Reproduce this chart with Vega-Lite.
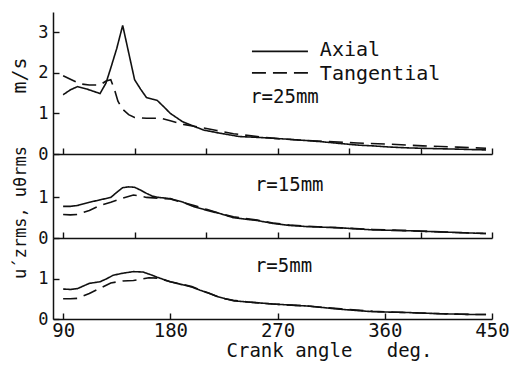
{
  "$schema": "https://vega.github.io/schema/vega-lite/v6.json",
  "background": "white",
  "padding": {"left": 9, "top": 12, "right": 5, "bottom": 2},
  "spacing": 0,
  "bounds": "flush",
  "config": {
    "view": {"stroke": null},
    "font": "DejaVu Sans Mono",
    "axis": {"domainColor": "#111", "gridColor": "#111", "labelColor": "#111", "titleColor": "#111", "labelOverlap": false, "labelFlush": false, "labelFont": "DejaVu Sans Mono", "titleFont": "DejaVu Sans Mono", "titleFontWeight": "normal", "domainWidth": 1.5, "gridWidth": 1.4, "gridOpacity": 1, "ticks": false, "grid": true}
  },
  "datasets": {
    "curves": [
      {"panel": "r25", "series": "Axial", "angle": 90, "v": 1.46},
      {"panel": "r25", "series": "Axial", "angle": 96, "v": 1.58},
      {"panel": "r25", "series": "Axial", "angle": 102, "v": 1.66},
      {"panel": "r25", "series": "Axial", "angle": 110, "v": 1.6},
      {"panel": "r25", "series": "Axial", "angle": 121, "v": 1.49},
      {"panel": "r25", "series": "Axial", "angle": 126, "v": 1.75},
      {"panel": "r25", "series": "Axial", "angle": 130, "v": 2.12},
      {"panel": "r25", "series": "Axial", "angle": 135, "v": 2.6},
      {"panel": "r25", "series": "Axial", "angle": 140, "v": 3.17},
      {"panel": "r25", "series": "Axial", "angle": 145, "v": 2.5},
      {"panel": "r25", "series": "Axial", "angle": 150, "v": 1.83},
      {"panel": "r25", "series": "Axial", "angle": 155, "v": 1.6},
      {"panel": "r25", "series": "Axial", "angle": 160, "v": 1.39},
      {"panel": "r25", "series": "Axial", "angle": 165, "v": 1.35},
      {"panel": "r25", "series": "Axial", "angle": 169, "v": 1.32},
      {"panel": "r25", "series": "Axial", "angle": 175, "v": 1.15},
      {"panel": "r25", "series": "Axial", "angle": 180, "v": 1.0},
      {"panel": "r25", "series": "Axial", "angle": 190, "v": 0.8},
      {"panel": "r25", "series": "Axial", "angle": 200, "v": 0.68},
      {"panel": "r25", "series": "Axial", "angle": 208, "v": 0.59},
      {"panel": "r25", "series": "Axial", "angle": 222, "v": 0.51},
      {"panel": "r25", "series": "Axial", "angle": 238, "v": 0.43},
      {"panel": "r25", "series": "Axial", "angle": 253, "v": 0.41},
      {"panel": "r25", "series": "Axial", "angle": 265, "v": 0.39},
      {"panel": "r25", "series": "Axial", "angle": 281, "v": 0.36},
      {"panel": "r25", "series": "Axial", "angle": 295, "v": 0.33},
      {"panel": "r25", "series": "Axial", "angle": 308, "v": 0.3},
      {"panel": "r25", "series": "Axial", "angle": 322, "v": 0.26},
      {"panel": "r25", "series": "Axial", "angle": 337, "v": 0.22},
      {"panel": "r25", "series": "Axial", "angle": 350, "v": 0.2},
      {"panel": "r25", "series": "Axial", "angle": 365, "v": 0.17},
      {"panel": "r25", "series": "Axial", "angle": 380, "v": 0.15},
      {"panel": "r25", "series": "Axial", "angle": 392, "v": 0.14},
      {"panel": "r25", "series": "Axial", "angle": 405, "v": 0.13},
      {"panel": "r25", "series": "Axial", "angle": 421, "v": 0.12},
      {"panel": "r25", "series": "Axial", "angle": 432, "v": 0.11},
      {"panel": "r25", "series": "Axial", "angle": 445, "v": 0.1},
      {"panel": "r25", "series": "Tangential", "angle": 90, "v": 1.93},
      {"panel": "r25", "series": "Tangential", "angle": 97, "v": 1.83},
      {"panel": "r25", "series": "Tangential", "angle": 104, "v": 1.73},
      {"panel": "r25", "series": "Tangential", "angle": 112, "v": 1.7},
      {"panel": "r25", "series": "Tangential", "angle": 121, "v": 1.7},
      {"panel": "r25", "series": "Tangential", "angle": 126, "v": 1.8},
      {"panel": "r25", "series": "Tangential", "angle": 130, "v": 1.83},
      {"panel": "r25", "series": "Tangential", "angle": 133, "v": 1.6},
      {"panel": "r25", "series": "Tangential", "angle": 136, "v": 1.3},
      {"panel": "r25", "series": "Tangential", "angle": 140, "v": 1.1},
      {"panel": "r25", "series": "Tangential", "angle": 145, "v": 0.97},
      {"panel": "r25", "series": "Tangential", "angle": 150, "v": 0.9},
      {"panel": "r25", "series": "Tangential", "angle": 160, "v": 0.88},
      {"panel": "r25", "series": "Tangential", "angle": 172, "v": 0.88},
      {"panel": "r25", "series": "Tangential", "angle": 180, "v": 0.82},
      {"panel": "r25", "series": "Tangential", "angle": 191, "v": 0.73},
      {"panel": "r25", "series": "Tangential", "angle": 205, "v": 0.66},
      {"panel": "r25", "series": "Tangential", "angle": 219, "v": 0.58},
      {"panel": "r25", "series": "Tangential", "angle": 233, "v": 0.5},
      {"panel": "r25", "series": "Tangential", "angle": 253, "v": 0.43},
      {"panel": "r25", "series": "Tangential", "angle": 270, "v": 0.38},
      {"panel": "r25", "series": "Tangential", "angle": 290, "v": 0.34},
      {"panel": "r25", "series": "Tangential", "angle": 310, "v": 0.31},
      {"panel": "r25", "series": "Tangential", "angle": 337, "v": 0.27},
      {"panel": "r25", "series": "Tangential", "angle": 365, "v": 0.24},
      {"panel": "r25", "series": "Tangential", "angle": 392, "v": 0.2},
      {"panel": "r25", "series": "Tangential", "angle": 421, "v": 0.17},
      {"panel": "r25", "series": "Tangential", "angle": 445, "v": 0.14},
      {"panel": "r15", "series": "Axial", "angle": 90, "v": 0.78},
      {"panel": "r15", "series": "Axial", "angle": 96, "v": 0.78},
      {"panel": "r15", "series": "Axial", "angle": 102, "v": 0.8},
      {"panel": "r15", "series": "Axial", "angle": 112, "v": 0.88},
      {"panel": "r15", "series": "Axial", "angle": 121, "v": 0.94},
      {"panel": "r15", "series": "Axial", "angle": 130, "v": 1.0},
      {"panel": "r15", "series": "Axial", "angle": 136, "v": 1.15},
      {"panel": "r15", "series": "Axial", "angle": 140, "v": 1.24},
      {"panel": "r15", "series": "Axial", "angle": 145, "v": 1.26},
      {"panel": "r15", "series": "Axial", "angle": 150, "v": 1.25},
      {"panel": "r15", "series": "Axial", "angle": 155, "v": 1.18},
      {"panel": "r15", "series": "Axial", "angle": 160, "v": 1.1},
      {"panel": "r15", "series": "Axial", "angle": 165, "v": 1.03},
      {"panel": "r15", "series": "Axial", "angle": 170, "v": 1.0},
      {"panel": "r15", "series": "Axial", "angle": 180, "v": 0.97},
      {"panel": "r15", "series": "Axial", "angle": 190, "v": 0.89},
      {"panel": "r15", "series": "Axial", "angle": 199, "v": 0.78},
      {"panel": "r15", "series": "Axial", "angle": 211, "v": 0.68},
      {"panel": "r15", "series": "Axial", "angle": 222, "v": 0.6},
      {"panel": "r15", "series": "Axial", "angle": 233, "v": 0.5},
      {"panel": "r15", "series": "Axial", "angle": 253, "v": 0.43},
      {"panel": "r15", "series": "Axial", "angle": 266, "v": 0.36},
      {"panel": "r15", "series": "Axial", "angle": 280, "v": 0.31},
      {"panel": "r15", "series": "Axial", "angle": 295, "v": 0.28},
      {"panel": "r15", "series": "Axial", "angle": 323, "v": 0.25},
      {"panel": "r15", "series": "Axial", "angle": 350, "v": 0.2},
      {"panel": "r15", "series": "Axial", "angle": 379, "v": 0.18},
      {"panel": "r15", "series": "Axial", "angle": 407, "v": 0.15},
      {"panel": "r15", "series": "Axial", "angle": 435, "v": 0.12},
      {"panel": "r15", "series": "Axial", "angle": 445, "v": 0.11},
      {"panel": "r15", "series": "Tangential", "angle": 90, "v": 0.58},
      {"panel": "r15", "series": "Tangential", "angle": 96, "v": 0.57},
      {"panel": "r15", "series": "Tangential", "angle": 102, "v": 0.58},
      {"panel": "r15", "series": "Tangential", "angle": 112, "v": 0.68},
      {"panel": "r15", "series": "Tangential", "angle": 121, "v": 0.8},
      {"panel": "r15", "series": "Tangential", "angle": 130, "v": 0.88},
      {"panel": "r15", "series": "Tangential", "angle": 140, "v": 0.98},
      {"panel": "r15", "series": "Tangential", "angle": 149, "v": 1.06},
      {"panel": "r15", "series": "Tangential", "angle": 155, "v": 1.03},
      {"panel": "r15", "series": "Tangential", "angle": 160, "v": 1.0},
      {"panel": "r15", "series": "Tangential", "angle": 170, "v": 0.98},
      {"panel": "r15", "series": "Tangential", "angle": 180, "v": 0.96},
      {"panel": "r15", "series": "Tangential", "angle": 190, "v": 0.88},
      {"panel": "r15", "series": "Tangential", "angle": 200, "v": 0.8},
      {"panel": "r15", "series": "Tangential", "angle": 211, "v": 0.7},
      {"panel": "r15", "series": "Tangential", "angle": 222, "v": 0.6},
      {"panel": "r15", "series": "Tangential", "angle": 233, "v": 0.52},
      {"panel": "r15", "series": "Tangential", "angle": 253, "v": 0.44},
      {"panel": "r15", "series": "Tangential", "angle": 266, "v": 0.37},
      {"panel": "r15", "series": "Tangential", "angle": 280, "v": 0.32},
      {"panel": "r15", "series": "Tangential", "angle": 295, "v": 0.29},
      {"panel": "r15", "series": "Tangential", "angle": 323, "v": 0.25},
      {"panel": "r15", "series": "Tangential", "angle": 350, "v": 0.21},
      {"panel": "r15", "series": "Tangential", "angle": 379, "v": 0.18},
      {"panel": "r15", "series": "Tangential", "angle": 407, "v": 0.15},
      {"panel": "r15", "series": "Tangential", "angle": 435, "v": 0.12},
      {"panel": "r15", "series": "Tangential", "angle": 445, "v": 0.11},
      {"panel": "r5", "series": "Axial", "angle": 90, "v": 0.74},
      {"panel": "r5", "series": "Axial", "angle": 96, "v": 0.73},
      {"panel": "r5", "series": "Axial", "angle": 102, "v": 0.75},
      {"panel": "r5", "series": "Axial", "angle": 112, "v": 0.88},
      {"panel": "r5", "series": "Axial", "angle": 121, "v": 0.92},
      {"panel": "r5", "series": "Axial", "angle": 127, "v": 1.0},
      {"panel": "r5", "series": "Axial", "angle": 132, "v": 1.08},
      {"panel": "r5", "series": "Axial", "angle": 140, "v": 1.13},
      {"panel": "r5", "series": "Axial", "angle": 149, "v": 1.17},
      {"panel": "r5", "series": "Axial", "angle": 157, "v": 1.16},
      {"panel": "r5", "series": "Axial", "angle": 163, "v": 1.1},
      {"panel": "r5", "series": "Axial", "angle": 169, "v": 1.03},
      {"panel": "r5", "series": "Axial", "angle": 180, "v": 0.92},
      {"panel": "r5", "series": "Axial", "angle": 191, "v": 0.84},
      {"panel": "r5", "series": "Axial", "angle": 198, "v": 0.79},
      {"panel": "r5", "series": "Axial", "angle": 205, "v": 0.71},
      {"panel": "r5", "series": "Axial", "angle": 212, "v": 0.64},
      {"panel": "r5", "series": "Axial", "angle": 219, "v": 0.56},
      {"panel": "r5", "series": "Axial", "angle": 226, "v": 0.5},
      {"panel": "r5", "series": "Axial", "angle": 233, "v": 0.45},
      {"panel": "r5", "series": "Axial", "angle": 245, "v": 0.42},
      {"panel": "r5", "series": "Axial", "angle": 266, "v": 0.37},
      {"panel": "r5", "series": "Axial", "angle": 295, "v": 0.32},
      {"panel": "r5", "series": "Axial", "angle": 323, "v": 0.24},
      {"panel": "r5", "series": "Axial", "angle": 350, "v": 0.18},
      {"panel": "r5", "series": "Axial", "angle": 379, "v": 0.16},
      {"panel": "r5", "series": "Axial", "angle": 407, "v": 0.13},
      {"panel": "r5", "series": "Axial", "angle": 435, "v": 0.11},
      {"panel": "r5", "series": "Axial", "angle": 445, "v": 0.11},
      {"panel": "r5", "series": "Tangential", "angle": 90, "v": 0.5},
      {"panel": "r5", "series": "Tangential", "angle": 96, "v": 0.5},
      {"panel": "r5", "series": "Tangential", "angle": 102, "v": 0.51},
      {"panel": "r5", "series": "Tangential", "angle": 112, "v": 0.63},
      {"panel": "r5", "series": "Tangential", "angle": 121, "v": 0.76},
      {"panel": "r5", "series": "Tangential", "angle": 130, "v": 0.89},
      {"panel": "r5", "series": "Tangential", "angle": 140, "v": 0.94},
      {"panel": "r5", "series": "Tangential", "angle": 149, "v": 0.95},
      {"panel": "r5", "series": "Tangential", "angle": 155, "v": 0.98},
      {"panel": "r5", "series": "Tangential", "angle": 162, "v": 1.02},
      {"panel": "r5", "series": "Tangential", "angle": 169, "v": 1.01},
      {"panel": "r5", "series": "Tangential", "angle": 180, "v": 0.92},
      {"panel": "r5", "series": "Tangential", "angle": 191, "v": 0.85},
      {"panel": "r5", "series": "Tangential", "angle": 198, "v": 0.8},
      {"panel": "r5", "series": "Tangential", "angle": 205, "v": 0.72},
      {"panel": "r5", "series": "Tangential", "angle": 212, "v": 0.64},
      {"panel": "r5", "series": "Tangential", "angle": 219, "v": 0.56},
      {"panel": "r5", "series": "Tangential", "angle": 226, "v": 0.5},
      {"panel": "r5", "series": "Tangential", "angle": 233, "v": 0.46},
      {"panel": "r5", "series": "Tangential", "angle": 245, "v": 0.42},
      {"panel": "r5", "series": "Tangential", "angle": 266, "v": 0.37},
      {"panel": "r5", "series": "Tangential", "angle": 295, "v": 0.32},
      {"panel": "r5", "series": "Tangential", "angle": 323, "v": 0.25},
      {"panel": "r5", "series": "Tangential", "angle": 350, "v": 0.19},
      {"panel": "r5", "series": "Tangential", "angle": 379, "v": 0.16},
      {"panel": "r5", "series": "Tangential", "angle": 407, "v": 0.13},
      {"panel": "r5", "series": "Tangential", "angle": 435, "v": 0.11},
      {"panel": "r5", "series": "Tangential", "angle": 445, "v": 0.11}
    ],
    "legendLines": [
      {"series": "Axial", "angle": 248.5, "v": 2.53},
      {"series": "Axial", "angle": 295.5, "v": 2.53},
      {"series": "Tangential", "angle": 248.5, "v": 2.0},
      {"series": "Tangential", "angle": 295.5, "v": 2.0}
    ],
    "legendText": [
      {"label": "Axial", "angle": 305.5, "v": 2.56},
      {"label": "Tangential", "angle": 305.5, "v": 1.98}
    ],
    "notes": [
      {"panel": "r25", "label": "r=25mm", "angle": 247, "v": 1.4},
      {"panel": "r15", "label": "r=15mm", "angle": 251, "v": 1.3},
      {"panel": "r5", "label": "r=5mm", "angle": 251, "v": 1.3}
    ]
  },
  "vconcat": [
    {
      "width": 439,
      "height": 142,
      "layer": [
        {
          "data": {"name": "curves"},
          "transform": [{"filter": "datum.panel == 'r25'"}],
          "mark": {"type": "line", "color": "#111", "strokeWidth": 1.6},
          "encoding": {
            "x": {"field": "angle", "type": "quantitative", "scale": {"domain": [81.5, 450], "nice": false, "zero": false},
              "axis": {"values": [90,120,150,180,210,240,270,300,330,360,390,420,450], "labels": false, "gridDash": [0, 136, 6, 2000], "title": null}},
            "y": {"field": "v", "type": "quantitative", "scale": {"domain": [0, 3.5], "nice": false},
              "axis": {"values": [0, 1, 2, 3], "format": "d", "gridDash": [6, 2000], "labelPadding": 5, "labelFontSize": 17, "title": "m/s", "titleFontSize": 20, "titleX": -24, "titleY": 63}},
            "strokeDash": {"field": "series", "type": "nominal", "scale": {"domain": ["Axial", "Tangential"], "range": [[1, 0], [14, 7]]}, "legend": null},
            "detail": {"field": "series"}
          }
        },
        {
          "data": {"name": "legendLines"},
          "mark": {"type": "line", "color": "#111", "strokeWidth": 1.6},
          "encoding": {
            "x": {"field": "angle", "type": "quantitative"},
            "y": {"field": "v", "type": "quantitative"},
            "strokeDash": {"field": "series", "type": "nominal", "legend": null},
            "detail": {"field": "series"}
          }
        },
        {
          "data": {"name": "legendText"},
          "mark": {"type": "text", "align": "left", "baseline": "middle", "fontSize": 20, "color": "#111", "font": "DejaVu Sans Mono"},
          "encoding": {
            "x": {"field": "angle", "type": "quantitative"},
            "y": {"field": "v", "type": "quantitative"},
            "text": {"field": "label"}
          }
        },
        {
          "data": {"name": "notes"},
          "transform": [{"filter": "datum.panel == 'r25'"}],
          "mark": {"type": "text", "align": "left", "baseline": "middle", "fontSize": 19, "color": "#111", "font": "DejaVu Sans Mono"},
          "encoding": {
            "x": {"field": "angle", "type": "quantitative"},
            "y": {"field": "v", "type": "quantitative"},
            "text": {"field": "label"}
          }
        }
      ]
    },
    {
      "width": 439,
      "height": 84,
      "layer": [
        {
          "data": {"name": "curves"},
          "transform": [{"filter": "datum.panel == 'r15'"}],
          "mark": {"type": "line", "color": "#111", "strokeWidth": 1.6},
          "encoding": {
            "x": {"field": "angle", "type": "quantitative", "scale": {"domain": [81.5, 450], "nice": false, "zero": false},
              "axis": {"values": [90,120,150,180,210,240,270,300,330,360,390,420,450], "labels": false, "gridDash": [0, 78, 6, 2000], "title": null}},
            "y": {"field": "v", "type": "quantitative", "scale": {"domain": [0, 2.07], "nice": false},
              "axis": {"values": [0, 1], "format": "d", "gridDash": [6, 2000], "labelPadding": 5, "labelFontSize": 17, "title": "u\u00b4zrms, uθrms", "titleFontSize": 17, "titleX": -24, "titleY": 58}},
            "strokeDash": {"field": "series", "type": "nominal", "scale": {"domain": ["Axial", "Tangential"], "range": [[1, 0], [14, 7]]}, "legend": null},
            "detail": {"field": "series"}
          }
        },
        {
          "data": {"name": "notes"},
          "transform": [{"filter": "datum.panel == 'r15'"}],
          "mark": {"type": "text", "align": "left", "baseline": "middle", "fontSize": 19, "color": "#111", "font": "DejaVu Sans Mono"},
          "encoding": {
            "x": {"field": "angle", "type": "quantitative"},
            "y": {"field": "v", "type": "quantitative"},
            "text": {"field": "label"}
          }
        }
      ]
    },
    {
      "width": 439,
      "height": 81,
      "layer": [
        {
          "data": {"name": "curves"},
          "transform": [{"filter": "datum.panel == 'r5'"}],
          "mark": {"type": "line", "color": "#111", "strokeWidth": 1.6},
          "encoding": {
            "x": {"field": "angle", "type": "quantitative", "scale": {"domain": [81.5, 450], "nice": false, "zero": false},
              "axis": {"values": [90, 180, 270, 360, 450], "format": "d", "gridDash": [0, 75, 6, 2000], "labelFontSize": 19, "labelPadding": 2, "title": "Crank angle\u00a0\u00a0\u00a0deg.", "titleFontSize": 19, "titlePadding": 1, "titleX": 276}},
            "y": {"field": "v", "type": "quantitative", "scale": {"domain": [0, 2.0], "nice": false},
              "axis": {"values": [0, 1], "format": "d", "gridDash": [6, 2000], "labelPadding": 5, "labelFontSize": 17, "title": null}},
            "strokeDash": {"field": "series", "type": "nominal", "scale": {"domain": ["Axial", "Tangential"], "range": [[1, 0], [14, 7]]}, "legend": null},
            "detail": {"field": "series"}
          }
        },
        {
          "data": {"name": "notes"},
          "transform": [{"filter": "datum.panel == 'r5'"}],
          "mark": {"type": "text", "align": "left", "baseline": "middle", "fontSize": 19, "color": "#111", "font": "DejaVu Sans Mono"},
          "encoding": {
            "x": {"field": "angle", "type": "quantitative"},
            "y": {"field": "v", "type": "quantitative"},
            "text": {"field": "label"}
          }
        }
      ]
    }
  ]
}
